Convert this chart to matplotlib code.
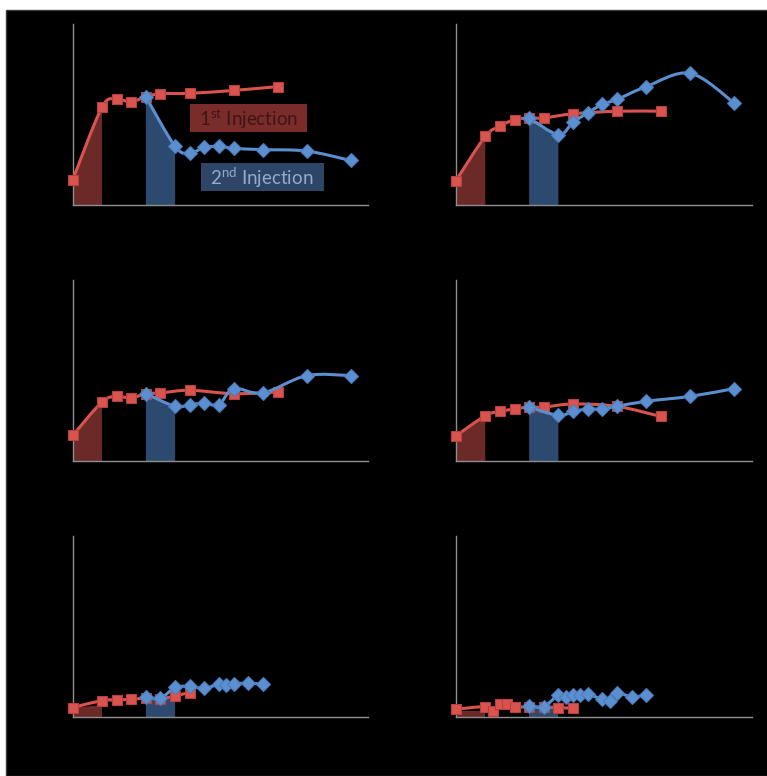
import numpy as np
import matplotlib
matplotlib.use("Agg")
import matplotlib.pyplot as plt
from matplotlib.patches import Rectangle, PathPatch
from matplotlib.path import Path

plt.rcParams["font.family"] = ["Lato", "DejaVu Sans"]
plt.rcParams["mathtext.fontset"] = "custom"
plt.rcParams["mathtext.rm"] = "Lato"

RED = "#d9534f"
RED_EDGE = "#b8403d"
BLUE = "#5b8fd0"
BLUE_EDGE = "#4a7cbc"
RED_FILL = "#6b2927"
BLUE_FILL = "#2c4a70"
AXIS = "#8f8f8f"

# time points (shared by the first four panels)
t_first = [0, 2, 3, 4, 5, 6, 8, 11, 14]
t_second = [5, 7, 8, 9, 10, 11, 13, 16, 19]

# panel A
first_a = [13.9, 54.0, 58.3, 57.0, 59.8, 61.5, 61.7, 63.3, 65.4]
second_a = [59.8, 32.4, 28.7, 31.8, 32.4, 31.3, 30.6, 29.8, 24.6]
# panel B
first_b = [13.5, 37.9, 43.5, 47.2, 48.1, 48.1, 50.4, 51.8, 51.8]
second_b = [48.1, 38.9, 45.7, 50.9, 55.6, 58.3, 65.4, 72.8, 56.5]
# panel C
first_c = [14.1, 32.6, 35.7, 34.8, 37.2, 37.6, 39.1, 37.2, 38.1]
second_c = [37.2, 30.2, 31.1, 32.0, 31.1, 40.0, 37.6, 47.2, 47.2]
# panel D
first_d = [13.9, 25.0, 27.4, 28.7, 29.8, 29.8, 31.5, 30.2, 24.6]
second_d = [29.8, 25.2, 27.4, 28.7, 28.7, 30.2, 33.0, 35.7, 40.0]
# panel E
t_first_e = [0, 2, 3, 4, 5, 6, 7, 8]
first_e = [5.2, 9.1, 9.4, 9.8, 10.4, 10.0, 11.7, 13.5]
t_second_e = [5, 6, 7, 8, 9, 10, 10.5, 11, 12, 13]
second_e = [11.3, 10.4, 16.3, 16.9, 15.9, 18.1, 17.8, 18.3, 18.7, 18.1]
# panel F
t_first_f = [0, 2, 2.5, 3, 3.5, 4, 5, 6, 7, 8]
first_f = [4.3, 5.7, 3.5, 7.2, 7.0, 5.4, 5.7, 5.4, 5.2, 4.8]
t_second_f = [5, 6, 7, 7.5, 8, 8.5, 9, 10, 10.5, 11, 12, 13]
second_f = [6.1, 5.7, 12.2, 11.3, 12.2, 11.9, 12.6, 9.8, 9.1, 13.1, 11.3, 11.9]

# injection windows and the heights of the shaded areas at their edges
win_first = [0, 2]
win_second = [5, 7]
shade_first = [[13.9, 54.0], [13.5, 37.9], [14.1, 32.6], [13.9, 25.0], [5.2, 6.5], [3.5, 3.5]]
shade_second = [[59.8, 32.4], [48.1, 38.9], [37.2, 30.2], [29.8, 25.2], [10.5, 10.0], [5.7, 5.7]]

panels = [
    (t_first, first_a, t_second, second_a),
    (t_first, first_b, t_second, second_b),
    (t_first, first_c, t_second, second_c),
    (t_first, first_d, t_second, second_d),
    (t_first_e, first_e, t_second_e, second_e),
    (t_first_f, first_f, t_second_f, second_f),
]


def smooth_path(x, y):
    # bezier through every point, like a spreadsheet "smoothed line"
    p = np.column_stack([x, y]).astype(float)
    ext = np.vstack([p[0], p, p[-1]])
    verts = [p[0]]
    codes = [Path.MOVETO]
    for i in range(len(p) - 1):
        p0, p1, p2, p3 = ext[i], ext[i + 1], ext[i + 2], ext[i + 3]
        verts += [p1 + (p2 - p0) / 6, p2 - (p3 - p1) / 6, p2]
        codes += [Path.CURVE4] * 3
    return Path(verts, codes)


W, H = 767, 776
fig = plt.figure(figsize=(W / 100, H / 100), dpi=100)
fig.patch.set_facecolor("white")
fig.add_artist(Rectangle((6 / W, 0), 1, (H - 10) / H, transform=fig.transFigure,
                         fc="black", ec="#3c3c3c", lw=1.0, zorder=0))

lefts = [72.7, 456]
bottoms = [205, 461, 717]
AW, AH = 295.5, 181

for k, (tx1, y1, tx2, y2) in enumerate(panels):
    r, c = divmod(k, 2)
    ax = fig.add_axes([lefts[c] / W, (H - bottoms[r]) / H, AW / W, AH / H])
    ax.set_facecolor("black")
    ax.set_xlim(0, 20.2)
    ax.set_ylim(0, 100)

    a0, a1 = shade_first[k]
    ax.fill([win_first[0], win_first[0], win_first[1], win_first[1]], [0, a0, a1, 0],
            fc=RED_FILL, ec="none", zorder=1)
    b0, b1 = shade_second[k]
    ax.fill([win_second[0], win_second[0], win_second[1], win_second[1]], [0, b0, b1, 0],
            fc=BLUE_FILL, ec="none", zorder=1)

    ax.add_patch(PathPatch(smooth_path(tx1, y1), fc="none", ec=RED, lw=2.2, zorder=3))
    ax.plot(tx1, y1, ls="none", marker="s", ms=7.5, mfc=RED, mec=RED_EDGE, mew=0.8,
            zorder=4, clip_on=False)
    ax.add_patch(PathPatch(smooth_path(tx2, y2), fc="none", ec=BLUE, lw=2.2, zorder=5))
    ax.plot(tx2, y2, ls="none", marker="D", ms=7, mfc=BLUE, mec=BLUE_EDGE, mew=0.8,
            zorder=6, clip_on=False)

    for s in ["top", "right"]:
        ax.spines[s].set_visible(False)
    for s in ["left", "bottom"]:
        ax.spines[s].set_color(AXIS)
        ax.spines[s].set_linewidth(1.0)
    ax.set_xticks([])
    ax.set_yticks([])

    if k == 0:
        ax.add_patch(Rectangle((8.0, 40.2), 8.05, 15.4, fc="#7a2c2b", ec="none", zorder=2))
        ax.text(12.0, 47.4, r"1$^{\mathrm{st}}$ Injection", ha="center", va="center",
                fontsize=13.5, color="#3e1514", zorder=2.5)
        ax.add_patch(Rectangle((8.75, 7.8), 8.4, 15.4, fc="#2e4568", ec="none", zorder=2))
        ax.text(12.95, 15.0, r"2$^{\mathrm{nd}}$ Injection", ha="center", va="center",
                fontsize=13.5, color="#93abd0", zorder=2.5)

fig.savefig("out.png", dpi=100, facecolor=fig.get_facecolor())
